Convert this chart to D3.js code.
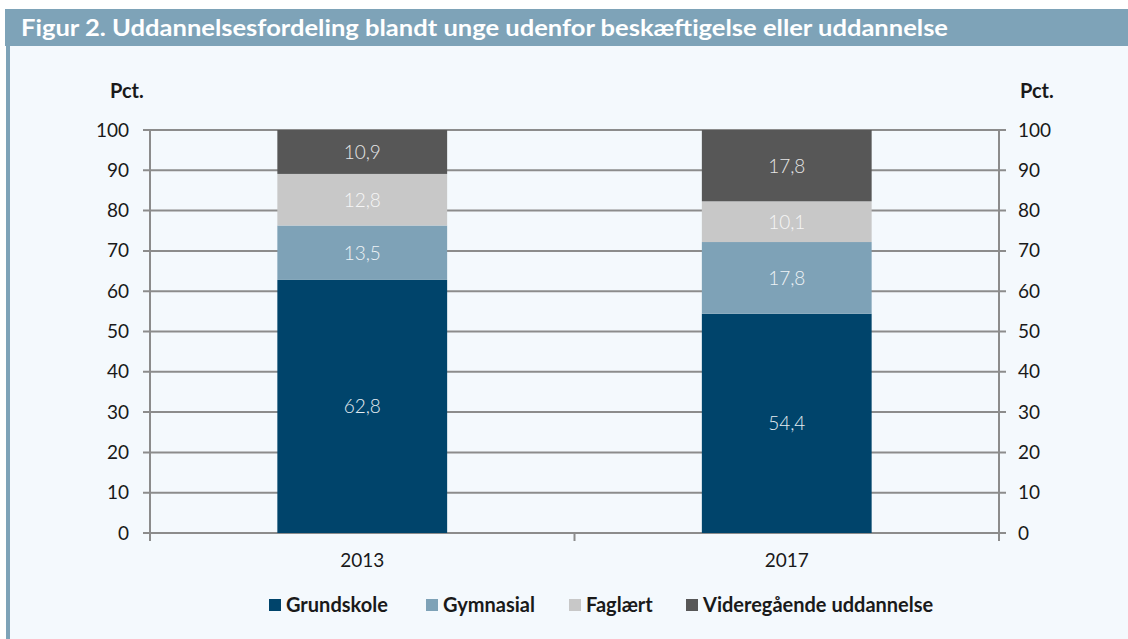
<!DOCTYPE html>
<html>
<head>
<meta charset="utf-8">
<script src="https://cdnjs.cloudflare.com/ajax/libs/d3/7.8.5/d3.min.js"></script>
<style>
  body { margin: 0; background: #ffffff; }
  svg { display: block; font-family: "Lato", "Open Sans", sans-serif; }
</style>
</head>
<body>
<svg id="chart"></svg>
<script>
const years = ["2013", "2017"];
const seriesNames = ["Grundskole", "Gymnasial", "Faglært", "Videregående uddannelse"];
const grundskole = [62.8, 54.4];
const gymnasial = [13.5, 17.8];
const faglaert = [12.8, 10.1];
const videregaaende = [10.9, 17.8];
const yTicks = [0, 10, 20, 30, 40, 50, 60, 70, 80, 90, 100];
const colors = ["#00446b", "#7ea2b7", "#c8c8c8", "#575757"];
const labelColors = ["#e6edf2", "#eef3f6", "#f6f6f6", "#e6e6e6"];

const width = 1128, height = 639;
const margins = {"left": 150, "right": 129, "top": 130, "bottom": 106};

const svg = d3.select("#chart")
  .attr("width", width)
  .attr("height", height);

// panel background + title bar
svg.append("rect").attr("x", 10).attr("y", 46).attr("width", width - 10).attr("height", height - 46)
  .attr("fill", "#f4f9fd");
svg.append("rect").attr("x", 6).attr("y", 46).attr("width", 4).attr("height", height - 46)
  .attr("fill", "#7ea3b8");
svg.append("rect").attr("x", 5).attr("y", 9).attr("width", width - 5).attr("height", 37)
  .attr("fill", "#7ea3b8");
svg.append("text")
  .attr("x", 21).attr("y", 36)
  .attr("fill", "#ffffff")
  .attr("font-size", 23)
  .attr("font-weight", 700)
  .attr("textLength", 927)
  .attr("lengthAdjust", "spacingAndGlyphs")
  .text("Figur 2. Uddannelsesfordeling blandt unge udenfor beskæftigelse eller uddannelse");

// build stacked data
const table = years.map((y, i) => ({
  year: y,
  "Grundskole": grundskole[i],
  "Gymnasial": gymnasial[i],
  "Faglært": faglaert[i],
  "Videregående uddannelse": videregaaende[i]
}));
const stacked = d3.stack().keys(seriesNames)(table);

const xScale = d3.scaleBand()
  .domain(years)
  .range([margins.left, width - margins.right])
  .paddingInner(0.6)
  .paddingOuter(0.3);

const yScale = d3.scaleLinear()
  .domain([0, 100])
  .range([height - margins.bottom, margins.top]);

const gridColor = "#8c8c8c";

// gridlines
svg.append("g").selectAll("line")
  .data(yTicks)
  .enter()
  .append("line")
  .attr("x1", margins.left - 7)
  .attr("x2", width - margins.right + 7)
  .attr("y1", d => yScale(d))
  .attr("y2", d => yScale(d))
  .attr("stroke", gridColor)
  .attr("stroke-width", 2);

// bars
const layers = svg.append("g").selectAll("g")
  .data(stacked)
  .enter()
  .append("g")
  .attr("fill", (d, i) => colors[i]);

layers.selectAll("rect")
  .data(d => d)
  .enter()
  .append("rect")
  .attr("x", d => xScale(d.data.year))
  .attr("y", d => yScale(Math.min(d[1], 100)))
  .attr("width", xScale.bandwidth())
  .attr("height", d => yScale(d[0]) - yScale(Math.min(d[1], 100)));

// value labels
stacked.forEach((layer, li) => {
  svg.append("g").selectAll("text")
    .data(layer)
    .enter()
    .append("text")
    .attr("x", d => xScale(d.data.year) + xScale.bandwidth() / 2)
    .attr("y", d => (yScale(d[0]) + yScale(Math.min(d[1], 100))) / 2)
    .attr("dy", "0.36em")
    .attr("text-anchor", "middle")
    .attr("font-size", 19)
    .attr("font-weight", 300)
    .attr("fill", labelColors[li])
    .text(d => d3.format(".1f")(d[1] - d[0]).replace(".", ","));
});

// axes
const yAxisLeft = d3.axisLeft(yScale).tickValues(yTicks).tickSize(0).tickPadding(21);
const yAxisRight = d3.axisRight(yScale).tickValues(yTicks).tickSize(0).tickPadding(19);

const gl = svg.append("g")
  .attr("transform", "translate(" + margins.left + ",0)")
  .call(yAxisLeft);
const gr = svg.append("g")
  .attr("transform", "translate(" + (width - margins.right) + ",0)")
  .call(yAxisRight);
[gl, gr].forEach(g => {
  g.select(".domain").remove();
  g.selectAll("text").attr("font-size", 19).attr("fill", "#1a1a1a").attr("font-family", "Lato, sans-serif");
});

// axis lines
const y0 = yScale(0), y100 = yScale(100);
[margins.left, width - margins.right].forEach(x => {
  svg.append("line")
    .attr("x1", x).attr("x2", x)
    .attr("y1", y100).attr("y2", y0 + 8)
    .attr("stroke", gridColor).attr("stroke-width", 2);
});
// category separator tick
const sepX = (xScale(years[0]) + xScale.bandwidth() + xScale(years[1])) / 2;
svg.append("line")
  .attr("x1", sepX).attr("x2", sepX)
  .attr("y1", y0).attr("y2", y0 + 8)
  .attr("stroke", gridColor).attr("stroke-width", 2);

const xAxis = d3.axisBottom(xScale).tickSize(0).tickPadding(21);
const gx = svg.append("g")
  .attr("transform", "translate(0," + y0 + ")")
  .call(xAxis);
gx.select(".domain").remove();
gx.selectAll("text").attr("font-size", 19).attr("fill", "#1a1a1a").attr("font-family", "Lato, sans-serif");

// unit labels
svg.append("text").attr("x", 110).attr("y", 98)
  .attr("font-size", 20).attr("font-weight", 700).attr("fill", "#1a1a1a").text("Pct.");
svg.append("text").attr("x", 1020).attr("y", 98)
  .attr("font-size", 20).attr("font-weight", 700).attr("fill", "#1a1a1a").text("Pct.");

// legend
const legendX = [269, 426, 569, 686];
const legend = svg.append("g").selectAll("g")
  .data(seriesNames)
  .enter()
  .append("g")
  .attr("transform", (d, i) => "translate(" + legendX[i] + ",599)");
legend.append("rect")
  .attr("width", 12).attr("height", 12)
  .attr("fill", (d, i) => colors[i]);
legend.append("text")
  .attr("x", 17).attr("y", 6).attr("dy", "0.36em")
  .attr("font-size", 20).attr("font-weight", 700).attr("fill", "#1a1a1a")
  .text(d => d);
</script>
</body>
</html>
